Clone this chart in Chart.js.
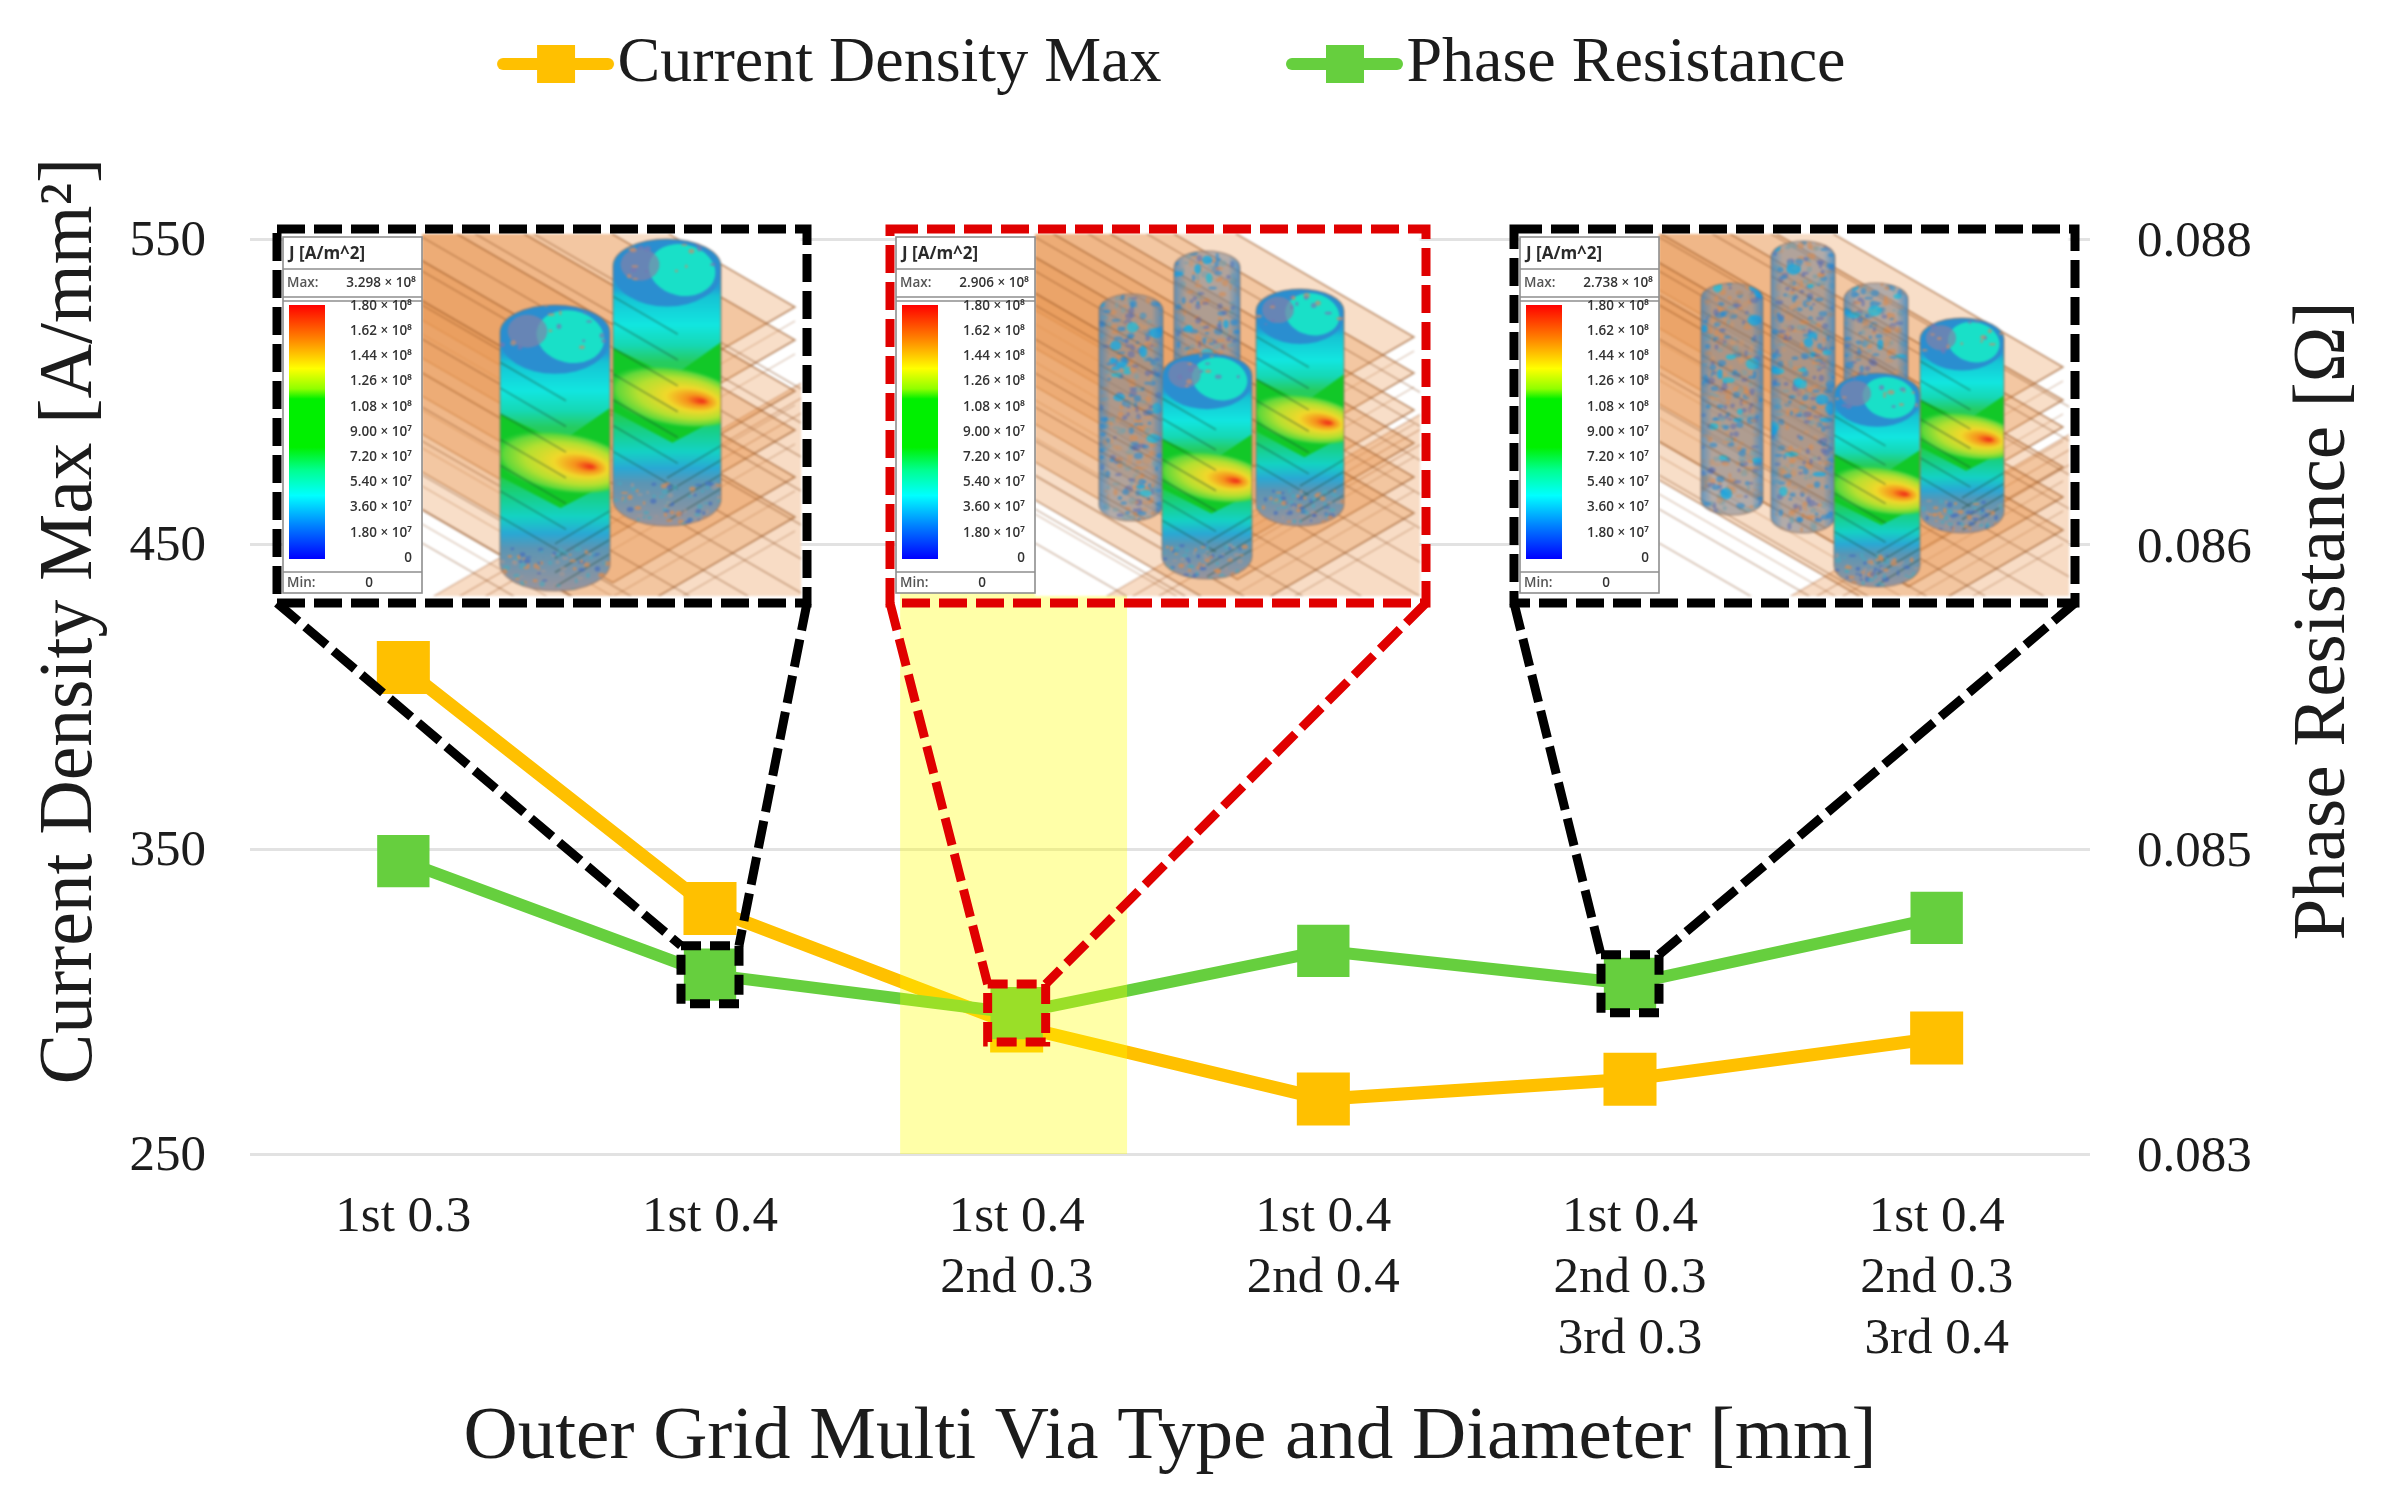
<!DOCTYPE html>
<html>
<head>
<meta charset="utf-8">
<style>html,body{margin:0;padding:0;background:#fff}#w{width:2389px;height:1511px}</style>
<script src="https://cdn.jsdelivr.net/npm/chart.js@4"></script>
</head>
<body>
<div id="w"><canvas id="c" width="2389" height="1511"></canvas></div>
<script>
const categories = [['1st 0.3'],['1st 0.4'],['1st 0.4','2nd 0.3'],['1st 0.4','2nd 0.4'],['1st 0.4','2nd 0.3','3rd 0.3'],['1st 0.4','2nd 0.3','3rd 0.4']];
const currentDensityMax = [409.5, 330.5, 292, 268, 274.5, 288];
const phaseResistance = [0.0846, 0.08398, 0.08377, 0.08411, 0.08393, 0.08429];
const densityTicks = [250, 350, 450, 550];
const resistanceTicks = [0.083, 0.08467, 0.08633, 0.088];
const insetMaxLabels = ['3.298', '2.906', '2.738'];
const colorbarLabels = ['1.80 × 10⁸','1.62 × 10⁸','1.44 × 10⁸','1.26 × 10⁸','1.08 × 10⁸','9.00 × 10⁷','7.20 × 10⁷','5.40 × 10⁷','3.60 × 10⁷','1.80 × 10⁷','0'];
const insetIndexes = [1, 2, 4];
const highlightIndex = 2;

const SERIF = '"Liberation Serif", "Times New Roman", serif';
const INK = '#1c1c1c';
const ORANGE = '#FFC000', GREEN = '#66CF3E';

const insets = [
 {x:277,y:229,w:530,h:374,color:'#000000',tips:[78,111,162,201,248,288],edge:281,ground:150,
  cyl:[{c:278,r:55,t:76,b:362,hot:1},{c:390,r:54,t:10,b:297,hot:1}]},
 {x:890,y:229,w:536,h:374,color:'#E00000',tips:[108,144,181,214,248,284],edge:271,ground:210,
  cyl:[{c:241,r:32,t:65,b:292},{c:317,r:33,t:22,b:274},{c:410,r:44,t:60,b:297,hot:1},{c:317,r:45,t:124,b:350,hot:1}]},
 {x:1514,y:229,w:561,h:374,color:'#000000',tips:[138,171,198,238,268,301],edge:251,ground:270,
  cyl:[{c:218,r:31,t:54,b:286},{c:289,r:32,t:12,b:304},{c:362,r:32,t:54,b:259},{c:448,r:42,t:89,b:304,hot:1},{c:363,r:43,t:144,b:358,hot:1}]}
];

function hash(i){const s=Math.sin(i*12.9898+3.1)*43758.5453;return s-Math.floor(s);}

function legendIcon(color){
  const cv=document.createElement('canvas');cv.width=150;cv.height=60;
  const g=cv.getContext('2d');
  g.strokeStyle=color;g.lineWidth=12;g.lineCap='round';
  g.beginPath();g.moveTo(37,30);g.lineTo(142,30);g.stroke();
  g.fillStyle=color;g.fillRect(71,11,38,38);
  return cv;
}

function cylPath(g,s){
  const ry=s.r*0.5;
  g.beginPath();
  g.ellipse(s.c,s.t+ry,s.r,ry,0,Math.PI,0);
  g.lineTo(s.c+s.r,s.b-ry);
  g.ellipse(s.c,s.b-ry,s.r,ry,0,0,Math.PI);
  g.closePath();
}

function speckle(g,s,seed,y0,y1,n,palette,size){
  for(let i=0;i<n;i++){
    const px=s.c+(hash(seed+i*3)*2-1)*s.r*0.97;
    const py=y0+hash(seed+i*7+1)*(y1-y0);
    g.fillStyle=palette[Math.floor(hash(seed+i*11+2)*palette.length)];
    g.beginPath();
    g.ellipse(px,py,size*(0.5+hash(seed+i*5)),size*(0.4+hash(seed+i*13)*0.8),0,0,Math.PI*2);
    g.fill();
  }
}

function drawCylinder(g,s,seed){
  const H=s.b-s.t, ry=s.r*0.5;
  g.save();
  cylPath(g,s);g.clip();
  if(s.hot){
    const grad=g.createLinearGradient(0,s.t,0,s.b);
    [[0,'#2f86c8'],[0.17,'#1f9fd6'],[0.2,'#16c3d4'],[0.3,'#12e6e0'],[0.37,'#16d8b4'],[0.43,'#26cc5e'],[0.6,'#22cc48'],
     [0.66,'#18d080'],[0.74,'#14d2c4'],[0.8,'#2aa8d4'],[0.85,'#5b95b4'],[1,'#9a949c']].forEach(a=>grad.addColorStop(a[0],a[1]));
    g.fillStyle=grad;g.fillRect(s.c-s.r,s.t,2*s.r,H);
    /* cap */
    g.fillStyle='#2a8ed0';g.beginPath();g.ellipse(s.c,s.t+ry*1.25,s.r,ry*1.25,0,0,Math.PI*2);g.fill();
    g.fillStyle='#19e0c8';g.beginPath();g.ellipse(s.c+s.r*0.28,s.t+ry*1.15,s.r*0.62,ry*0.95,0.2,0,Math.PI*2);g.fill();
    g.fillStyle='rgba(130,130,170,.7)';g.beginPath();g.ellipse(s.c-s.r*0.5,s.t+ry*0.95,s.r*0.36,ry*0.6,0,0,Math.PI*2);g.fill();
    /* green wedge */
    g.fillStyle='#12c828';
    g.beginPath();g.moveTo(s.c-s.r,s.t+H*0.38);g.lineTo(s.c+s.r*0.1,s.t+H*0.48);g.lineTo(s.c+s.r,s.t+H*0.36);
    g.lineTo(s.c+s.r,s.t+H*0.62);g.lineTo(s.c+s.r*0.1,s.t+H*0.71);g.lineTo(s.c-s.r,s.t+H*0.6);g.closePath();g.fill();
    /* hot band */
    const hy=s.t+H*0.55, hx=s.c+s.r*0.15;
    g.save();g.translate(hx,hy);g.rotate(0.16);g.scale(1,0.42);
    const rad=g.createRadialGradient(s.r*0.5,0,2,0,0,s.r*1.3);
    rad.addColorStop(0,'#f03a18');rad.addColorStop(0.14,'#f6901c');rad.addColorStop(0.36,'#f0d82a');rad.addColorStop(0.66,'#b4e030');rad.addColorStop(0.88,'#60d83a');rad.addColorStop(1,'rgba(60,210,60,0)');
    g.fillStyle=rad;g.beginPath();g.arc(0,0,s.r*1.3,0,Math.PI*2);g.fill();g.restore();
    /* plate edges seen through the via */
    g.strokeStyle='rgba(30,70,50,.4)';g.lineWidth=1.6;
    for(let i=0;i<7;i++){const y=s.t+H*(0.2+i*0.09);
      g.beginPath();g.moveTo(s.c-s.r,y);g.lineTo(s.c+s.r*0.2,y+s.r*0.7);g.stroke();}
    for(let i=0;i<4;i++){const y=s.t+H*(0.72+i*0.05);
      g.beginPath();g.moveTo(s.c,y+s.r*0.6);g.lineTo(s.c+s.r,y);g.stroke();}
    speckle(g,s,seed,s.t+H*0.85,s.b,80,['rgba(210,140,90,.75)','rgba(70,110,190,.7)','rgba(160,150,150,.7)','rgba(70,170,190,.6)'],2.4);
    speckle(g,s,seed+50,s.t,s.t+ry*1.6,16,['rgba(200,140,110,.7)','rgba(120,120,180,.7)'],2.4);
  }else{
    g.fillStyle='rgba(135,140,150,.62)';g.fillRect(s.c-s.r,s.t,2*s.r,H);
    speckle(g,s,seed,s.t,s.b,Math.round(H*1.4),['rgba(214,140,86,.62)','rgba(40,140,210,.6)','rgba(90,110,180,.55)','rgba(120,160,170,.55)','rgba(200,150,110,.55)'],3);
    speckle(g,s,seed+200,s.t,s.b,Math.round(H*0.07),['rgba(25,170,225,.8)','rgba(30,190,220,.75)'],5);
    g.strokeStyle='rgba(120,70,30,.34)';g.lineWidth=1.3;
    for(let i=0;i<9;i++){const y=s.t+H*(0.12+i*0.095);
      g.beginPath();g.moveTo(s.c-s.r,y);g.lineTo(s.c+s.r,y+s.r*1.1);g.stroke();}
    const side=g.createLinearGradient(s.c-s.r,0,s.c+s.r,0);
    side.addColorStop(0,'rgba(20,130,215,.5)');side.addColorStop(0.18,'rgba(20,130,215,0)');
    side.addColorStop(0.82,'rgba(20,130,215,0)');side.addColorStop(1,'rgba(20,130,215,.6)');
    g.fillStyle=side;g.fillRect(s.c-s.r,s.t,2*s.r,H);
  }
  g.restore();
  g.strokeStyle='rgba(150,120,100,.55)';g.lineWidth=1.6;cylPath(g,s);g.stroke();
}

function renderPicture(b,seed){
  const cv=document.createElement('canvas');cv.width=b.w;cv.height=b.h;
  const g=cv.getContext('2d');
  const px=145, R=b.w-12, slope=0.58;
  g.save();g.beginPath();g.rect(px,5,b.w-px-6,b.h-12);g.clip();
  g.fillStyle='#ffffff';g.fillRect(0,0,b.w,b.h);
  /* ground plate */
  g.fillStyle='#F8DCC5';
  const gx=px+b.ground-150;
  g.beginPath();g.moveTo(gx,b.h);g.lineTo(gx+560,b.h-560*slope);g.lineTo(b.w,b.h-560*slope);g.lineTo(b.w,b.h);g.closePath();g.fill();
  g.strokeStyle='rgba(170,100,50,.45)';g.lineWidth=1.3;
  for(let i=0;i<3;i++){g.beginPath();g.moveTo(gx+i*26,b.h);g.lineTo(gx+i*26+560,b.h-560*slope);g.stroke();}
  /* stacked plates */
  b.tips.forEach((t,k)=>{
    const n=b.tips.length;
    const e=b.edge-(n-1-k)*38;                 /* y of the lower-left edge at the panel */
    const bx=(e-slope*px-t-slope*R)/(-2*slope);
    const by=t+slope*(R-bx);
    const lx=px-300, ly=e+slope*(lx-px);
    const topx=R-900, topy=t-900*slope;
    g.beginPath();g.moveTo(R,t);g.lineTo(bx,by);g.lineTo(lx,ly);g.lineTo(topx,topy);g.closePath();
    g.fillStyle='rgba(233,148,78,.31)';g.fill();
    g.strokeStyle='rgba(150,84,34,.62)';g.lineWidth=1.5;g.stroke();
    g.strokeStyle='rgba(150,84,34,.35)';g.lineWidth=1.2;
    g.beginPath();g.moveTo(R,t+14);g.lineTo(bx,by+14);g.lineTo(lx,ly+14);g.stroke();
  });
  /* traces fanning over the upper-left corner */
  g.strokeStyle='rgba(130,70,25,.42)';g.lineWidth=1.4;
  for(let i=0;i<12;i++){const y=-60+i*34;g.beginPath();g.moveTo(px,y);g.lineTo(px+500,y+500*slope);g.stroke();}
  b.cyl.forEach((s,i)=>drawCylinder(g,s,seed+i*37));
  g.restore();
  return cv;
}

function drawPanel(ctx,b,maxLabel){
  const x=b.x+6, y=b.y+8, w=139;
  ctx.save();
  ctx.fillStyle='#fff';ctx.fillRect(x,y,w,356);
  ctx.strokeStyle='#8e8e8e';ctx.lineWidth=1.6;
  ctx.strokeRect(x,y,w,356);
  [32,60,64,335].forEach(d=>{ctx.beginPath();ctx.moveTo(x,y+d);ctx.lineTo(x+w,y+d);ctx.stroke();});
  const cb=ctx.createLinearGradient(0,y+68,0,y+322);
  [[0,'#ff0000'],[0.13,'#ff8000'],[0.25,'#ffff00'],[0.33,'#90ff00'],[0.37,'#00f000'],[0.56,'#00f000'],[0.65,'#00ff90'],[0.75,'#00ffff'],[0.87,'#0080ff'],[1,'#0000ff']]
    .forEach(a=>cb.addColorStop(a[0],a[1]));
  ctx.fillStyle=cb;ctx.fillRect(x+6,y+68,36,254);
  ctx.fillStyle='#2a2a2a';ctx.textBaseline='middle';
  ctx.font='bold 17px "Open Sans", "Noto Sans", sans-serif';ctx.textAlign='left';
  ctx.fillText('J [A/m^2]',x+6,y+17);
  ctx.font='600 13.5px "Open Sans", "Noto Sans", sans-serif';
  ctx.fillStyle='#555';ctx.fillText('Max:',x+4,y+46);
  ctx.fillStyle='#333';ctx.textAlign='right';ctx.fillText(maxLabel+' × 10⁸',x+w-6,y+46);
  colorbarLabels.forEach((t,i)=>{ctx.fillText(t,x+w-10,y+69+i*25.2);});
  ctx.fillStyle='#555';ctx.textAlign='left';ctx.fillText('Min:',x+4,y+346);
  ctx.fillStyle='#333';ctx.textAlign='center';ctx.fillText('0',x+86,y+346);
  ctx.restore();
}

const overlay = {
  id:'overlay',
  beforeInit(chart){
    const fit=chart.legend.fit;
    chart.legend.fit=function(){fit.call(this);this.height=331;};
  },
  afterDraw(chart){
    const ctx=chart.ctx, xs=chart.scales.x, ys=chart.scales.y, yr=chart.scales.yR;
    const step=xs.getPixelForValue(1)-xs.getPixelForValue(0);
    /* highlight band */
    ctx.save();
    ctx.fillStyle='rgba(255,255,0,0.34)';
    const bc=xs.getPixelForValue(highlightIndex);
    ctx.fillRect(bc-0.38*step,590,0.74*step,ys.getPixelForValue(250)-590);
    ctx.restore();

    insets.forEach((b,i)=>{
      if(!b.pic)b.pic=renderPicture(b,(i+1)*101);
      ctx.save();ctx.filter='blur(1.1px)';ctx.drawImage(b.pic,b.x,b.y);ctx.restore();
      drawPanel(ctx,b,insetMaxLabels[i]);
      const idx=insetIndexes[i];
      const cx=xs.getPixelForValue(idx), cy=yr.getPixelForValue(phaseResistance[idx]);
      const hs=29;
      ctx.save();
      ctx.strokeStyle=b.color;ctx.lineWidth=9;ctx.setLineDash([28,9]);
      ctx.strokeRect(b.x,b.y,b.w,b.h);
      ctx.beginPath();ctx.moveTo(b.x,b.y+b.h);ctx.lineTo(cx-hs,cy-hs);ctx.stroke();
      ctx.beginPath();ctx.moveTo(b.x+b.w,b.y+b.h);ctx.lineTo(cx+hs,cy-hs);ctx.stroke();
      ctx.setLineDash([20,9]);
      ctx.strokeRect(cx-hs,cy-hs,2*hs,2*hs);
      ctx.restore();
    });

    /* axis titles that read bottom-to-top at their own offsets */
    ctx.save();
    ctx.fillStyle=INK;ctx.textAlign='center';ctx.textBaseline='middle';
    ctx.font='75.5px '+SERIF;
    ctx.translate(71,621);ctx.rotate(-Math.PI/2);
    ctx.fillText('Current Density Max [A/mm²]',0,0);
    ctx.restore();
    ctx.save();
    ctx.fillStyle=INK;ctx.textAlign='center';ctx.textBaseline='middle';
    ctx.font='75px '+SERIF;
    ctx.translate(2324,621);ctx.rotate(-Math.PI/2);
    ctx.fillText('Phase Resistance [Ω]',0,0);
    ctx.restore();
  }
};

new Chart(document.getElementById('c'),{
  type:'line',
  data:{
    labels:categories,
    datasets:[
      {label:'Current Density Max',data:currentDensityMax,yAxisID:'y',order:2,borderColor:ORANGE,backgroundColor:ORANGE,borderWidth:13,
       pointStyle:'rect',pointRadius:37.5,pointHoverRadius:37.5,pointBorderWidth:0,tension:0,fill:false},
      {label:'Phase Resistance',data:phaseResistance,yAxisID:'yR',order:1,borderColor:GREEN,backgroundColor:GREEN,borderWidth:12,
       pointStyle:'rect',pointRadius:37,pointHoverRadius:37,pointBorderWidth:0,tension:0,fill:false}
    ]
  },
  plugins:[overlay],
  options:{
    responsive:false,animation:false,devicePixelRatio:1,
    layout:{padding:{top:-92,left:0,right:47,bottom:0}},
    plugins:{
      tooltip:{enabled:false},
      legend:{display:true,position:'top',align:'center',
        labels:{usePointStyle:true,pointStyleWidth:89,padding:124,color:INK,font:{family:SERIF,size:64},
          generateLabels:c=>c.data.datasets.map((d,i)=>({text:d.label,pointStyle:legendIcon(d.borderColor),
            fillStyle:d.borderColor,strokeStyle:d.borderColor,lineWidth:0,hidden:false,datasetIndex:i,fontColor:INK}))}}
    },
    scales:{
      x:{
        offset:true,
        grid:{display:false,drawTicks:false},border:{display:false},
        ticks:{autoSkip:false,maxRotation:0,minRotation:0,padding:33,color:INK,font:{family:SERIF,size:51,lineHeight:1.2}},
        title:{display:true,text:'Outer Grid Multi Via Type and Diameter [mm]',color:INK,font:{family:SERIF,size:75,lineHeight:1},padding:{top:0,bottom:35}},
        afterFit:s=>{s.height=357;}
      },
      y:{
        position:'left',min:250,max:550,
        afterBuildTicks:s=>{s.ticks=densityTicks.map(v=>({value:v}));},
        grid:{color:'#E2E2E2',lineWidth:3,drawTicks:false},border:{display:false},
        ticks:{padding:44,labelOffset:3,color:INK,font:{family:SERIF,size:51}},
        afterFit:s=>{s.width=250;}
      },
      yR:{
        position:'right',min:0.083,max:0.088,
        afterBuildTicks:s=>{s.ticks=resistanceTicks.map(v=>({value:v}));},
        grid:{display:false,drawTicks:false},border:{display:false},
        ticks:{padding:47,labelOffset:4,color:INK,font:{family:SERIF,size:51},callback:v=>Number(v).toFixed(3)},
        afterFit:s=>{s.width=252;}
      }
    }
  }
});
</script>
</body>
</html>
